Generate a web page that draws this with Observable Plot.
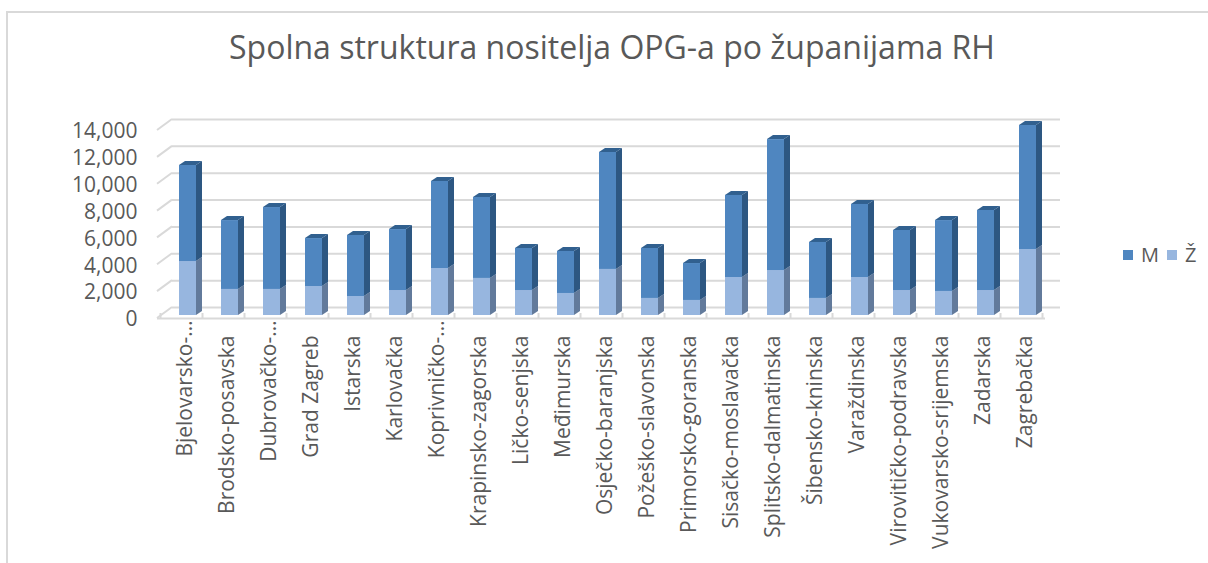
<!DOCTYPE html>
<html>
<head>
<meta charset="utf-8">
<script src="https://cdn.jsdelivr.net/npm/d3@7"></script>
<script src="https://cdn.jsdelivr.net/npm/@observablehq/plot@0.6"></script>
<style>
  html, body { margin: 0; padding: 0; background: #fff; }
  #wrap { position: relative; width: 1208px; height: 563px; overflow: hidden; font-family: "Open Sans", sans-serif; }
  #frame { position: absolute; left: 6px; top: 11px; width: 1400px; height: 800px; border-left: 2px solid #d9d9d9; border-top: 2px solid #d9d9d9; }
  #title { position: absolute; left: 0; width: 1224px; top: 31px; text-align: center; font-size: 32px; line-height: 1; color: #595959; white-space: nowrap; }
  #chart { position: absolute; left: 0; top: 0; }
  #legend { position: absolute; left: 1123px; top: 245px; font-size: 20px; color: #595959; display: flex; align-items: center; white-space: nowrap; line-height: 1; }
  #legend .sw { display: inline-block; width: 10px; height: 10px; margin-right: 8px; }
  #legend .item { display: inline-flex; align-items: center; margin-right: 8px; }
</style>
</head>
<body>
<div id="wrap">
  <div id="frame"></div>
  <div id="chart"></div>
  <div id="title">Spolna struktura nositelja OPG-a po županijama RH</div>
  <div id="legend"></div>
</div>
<script>
const counties = ["Bjelovarsko-…", "Brodsko-posavska", "Dubrovačko-…", "Grad Zagreb", "Istarska", "Karlovačka", "Koprivničko-…", "Krapinsko-zagorska", "Ličko-senjska", "Međimurska", "Osječko-baranjska", "Požeško-slavonska", "Primorsko-goranska", "Sisačko-moslavačka", "Splitsko-dalmatinska", "Šibensko-kninska", "Varaždinska", "Virovitičko-podravska", "Vukovarsko-srijemska", "Zadarska", "Zagrebačka"];
const valuesM = [7150, 5130, 6100, 3570, 4550, 4540, 6480, 6030, 3130, 3130, 8710, 3720, 2750, 6110, 9750, 4170, 5440, 4470, 5280, 5960, 9240];
const valuesZ = [4020, 1940, 1940, 2160, 1410, 1860, 3500, 2760, 1860, 1640, 3430, 1270, 1120, 2830, 3350, 1270, 2830, 1860, 1790, 1860, 4910];
const yTicks = [0, 2000, 4000, 6000, 8000, 10000, 12000, 14000];
const seriesNames = ["M", "Ž"];
const frontColors = {"M": "#4f86c0", "Ž": "#97b6df"};
const sideColors = {"M": "#2d5782", "Ž": "#627a9b"};
const topColor = "#31608f";

const rows = counties.map((c, i) => ({county: c, z: valuesZ[i], total: valuesZ[i] + valuesM[i]}));
const grid = "#d9d9d9";
const textColor = "#595959";
const DX = 6, DY = -4; // 3D depth offset of the column faces

// decorations drawn from the library's scales (3D floor ticks, wall edges)
function decor(index, scales, values, dims) {
  const g = d3.create("svg:g").attr("stroke", grid).attr("stroke-width", 2).attr("fill", "none");
  const x = scales.x, y = scales.y;
  const step = x(counties[1]) - x(counties[0]);
  const bw = x.bandwidth ? x.bandwidth() : 0.4 * step;
  const pad = (step - bw) / 2;
  for (const t of yTicks) {
    g.append("line").attr("x1", dims.marginLeft - 6).attr("y1", y(t) + 3)
      .attr("x2", dims.marginLeft + 9).attr("y2", y(t) - 8);
  }
  const bounds = counties.map(c => x(c) - pad);
  bounds.push(x(counties[counties.length - 1]) + bw + pad);
  for (const b of bounds) {
    g.append("line").attr("x1", b - 6).attr("y1", y(0) + 3).attr("x2", b - 6).attr("y2", y(0) - 2);
  }
  return g.node();
}

// side and top faces of the 3D columns, positioned with the library's scales
function faces(index, scales) {
  const g = d3.create("svg:g");
  const x = scales.x, y = scales.y;
  const step = x(counties[1]) - x(counties[0]);
  const bw = x.bandwidth ? x.bandwidth() : 0.4 * step;
  const poly = (pts, fill) => g.append("polygon").attr("points", pts.map(p => p.join(",")).join(" ")).attr("fill", fill);
  for (const r of rows) {
    const x0 = x(r.county), x1 = x0 + bw;
    const y0 = y(0), yz = y(r.z), yt = y(r.total);
    poly([[x1, y0], [x1 + DX, y0 + DY], [x1 + DX, yz + DY], [x1, yz]], sideColors["Ž"]);
    poly([[x1, yz], [x1 + DX, yz + DY], [x1 + DX, yt + DY], [x1, yt]], sideColors["M"]);
    poly([[x0, yt], [x0 + DX, yt + DY], [x1 + DX, yt + DY], [x1, yt]], topColor);
  }
  return g.node();
}

const chart = Plot.plot({
  width: 1208,
  height: 563,
  marginLeft: 163,
  marginRight: 157,
  marginTop: 127,
  marginBottom: 248,
  style: {background: "transparent", fontFamily: "Open Sans, sans-serif", overflow: "visible"},
  x: {type: "band", domain: counties, paddingInner: 0.6, paddingOuter: 0.3, axis: null},
  y: {domain: [0, 14000], axis: null},
  marks: [
    Plot.ruleY(yTicks, {stroke: grid, strokeWidth: 2, dx: 9, dy: -8}),
    Plot.ruleY([0], {stroke: grid, strokeWidth: 2, dx: -6, dy: 3}),
    decor,
    Plot.axisY({ticks: yTicks, tickSize: 0, tickPadding: 26, dy: 4, fontSize: 21, fill: textColor, tickFormat: d3.format(","), label: null}),
    faces,
    Plot.barY(rows, {x: "county", y1: 0, y2: "z", fill: frontColors["Ž"]}),
    Plot.barY(rows, {x: "county", y1: "z", y2: "total", fill: frontColors["M"]}),
    Plot.text(counties.filter(c => !c.endsWith("…")), {x: d => d, y: 0, text: d => d, rotate: -90, textAnchor: "end", dx: -3, dy: 20, fontSize: 21, fill: textColor}),
    Plot.text(counties.filter(c => c.endsWith("…")), {x: d => d, y: 0, text: d => d, rotate: -90, textAnchor: "end", dx: -3, dy: 5, fontSize: 21, fill: textColor})
  ]
});
document.getElementById("chart").appendChild(chart);

const legend = document.getElementById("legend");
for (const s of seriesNames) {
  const item = document.createElement("span");
  item.className = "item";
  item.innerHTML = `<span class="sw" style="background:${frontColors[s]}"></span>${s}`;
  legend.appendChild(item);
}
</script>
</body>
</html>
